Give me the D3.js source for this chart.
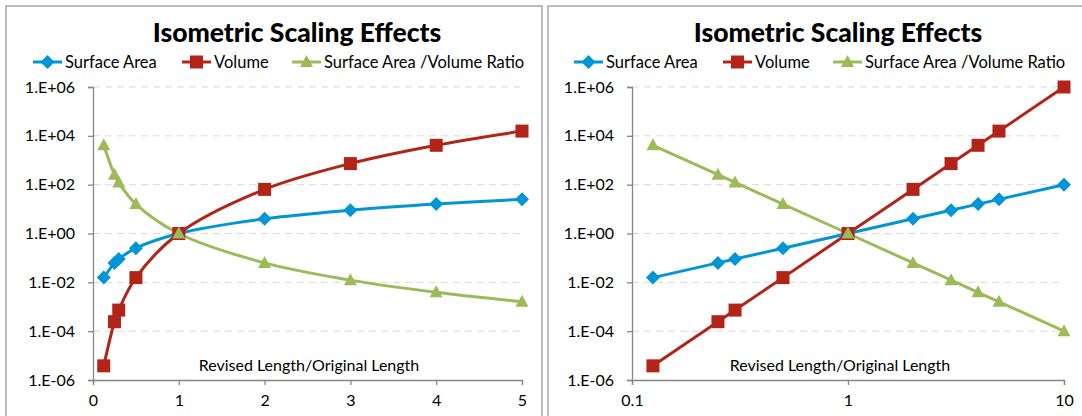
<!DOCTYPE html>
<html lang="en">
<head>
<meta charset="UTF-8">
<title>Isometric Scaling Effects</title>
<script src="https://d3js.org/d3.v7.min.js"></script>
<style>
  body { margin: 0; background: #fff; }
  text { font-family: Lato, "Open Sans", sans-serif; fill: #000; }
</style>
</head>
<body>
<svg id="chart" width="1082" height="416"></svg>
<script>
// values
const lengthRatio = [0.125, 0.25, 0.3, 0.5, 1, 2, 3, 4, 5, 10];
const surfaceArea = [0.0156, 0.0625, 0.09, 0.25, 1, 4, 9, 16, 25, 100];
const volume      = [3.8e-6, 2.44e-4, 7.3e-4, 0.0156, 1, 64, 729, 4096, 15625, 1e6];
const saVolRatio  = [4096, 256, 123, 16, 1, 0.0625, 0.0123, 0.0039, 0.0016, 1e-4];
const yTicks = [1e-6, 1e-4, 1e-2, 1, 1e2, 1e4, 1e6];
const xTicksLinear = [0, 1, 2, 3, 4, 5];
const xTicksLog = [0.1, 1, 10];

const series = [
  {name: "Surface Area", values: surfaceArea, color: "#0096d6", marker: "diamond"},
  {name: "Volume", values: volume, color: "#b22418", marker: "square"},
  {name: "Surface Area /Volume Ratio", values: saVolRatio, color: "#9bbb59", marker: "triangle"}
];

const svg = d3.select("#chart");

function fmtSci(d) {
  const e = Math.round(Math.log10(d));
  return "1.E" + (e < 0 ? "-" : "+") + String(Math.abs(e)).padStart(2, "0");
}

function marker(g, type, x, y, color) {
  if (type === "diamond") {
    g.append("path").attr("d", `M${x},${y-7}L${x+7},${y}L${x},${y+7}L${x-7},${y}Z`).attr("fill", color);
  } else if (type === "square") {
    g.append("rect").attr("x", x-6.5).attr("y", y-6.5).attr("width", 13).attr("height", 13).attr("fill", color);
  } else {
    g.append("path").attr("d", `M${x},${y-7}L${x+6.5},${y+5}L${x-6.5},${y+5}Z`).attr("fill", color);
  }
}

function drawPanel(p) {
  const g = svg.append("g");
  // panel border
  g.append("rect").attr("x", p.boxX).attr("y", 6).attr("width", p.boxW).attr("height", 440)
    .attr("fill", "#fff").attr("stroke", "#a6a6a6").attr("stroke-width", 1.5);

  const x = p.xScale;
  const y = d3.scaleLog().domain([1e-6, 1e6]).range([380, 87]);

  // title
  g.append("text").attr("x", p.titleX).attr("y", 42).attr("text-anchor", "middle")
    .style("font-size", "26.5px").style("font-weight", "900").text("Isometric Scaling Effects");

  // legend
  const lg = g.append("g");
  const legX = [27, 176, 286];
  series.forEach((s, i) => {
    const lx = p.legendX + legX[i];
    lg.append("line").attr("x1", lx).attr("x2", lx + 29).attr("y1", 62).attr("y2", 62)
      .attr("stroke", s.color).attr("stroke-width", 3);
    marker(lg, s.marker, lx + 14.5, 62, s.color);
    lg.append("text").attr("x", lx + 32).attr("y", 68).style("font-size", "16.5px").text(s.name);
  });

  // gridlines
  g.append("g").selectAll("line").data(yTicks.slice(1)).join("line")
    .attr("x1", x.range()[0]).attr("x2", x.range()[1])
    .attr("y1", d => y(d)).attr("y2", d => y(d))
    .attr("stroke", "#d9d9d9").attr("stroke-dasharray", "7,5");

  // axes
  const yAxis = g.append("g").attr("transform", `translate(${x.range()[0]},0)`)
    .call(d3.axisLeft(y).tickValues(yTicks).tickFormat(fmtSci).tickSize(5).tickPadding(13));
  const xAxis = g.append("g").attr("transform", "translate(0,380)")
    .call(d3.axisBottom(x).tickValues(p.xTicks).tickFormat(d => String(d)).tickSize(5).tickPadding(10));
  [yAxis, xAxis].forEach(a => {
    a.select(".domain").attr("stroke", "#868686").attr("stroke-width", 1.3);
    a.selectAll(".tick line").attr("stroke", "#868686").attr("stroke-width", 1.3);
    a.selectAll("text").style("font-size", "16px").style("font-family", "Lato, sans-serif").attr("fill", "#000");
  });

  // axis title
  g.append("text").attr("x", p.axisTitleX).attr("y", 371).attr("text-anchor", "middle")
    .style("font-size", "16px").text("Revised Length/Original Length");

  // series
  const pts = lengthRatio.map((v, i) => i).filter(i => lengthRatio[i] <= p.xMax);
  series.forEach(s => {
    const line = d3.line().x(i => x(lengthRatio[i])).y(i => y(s.values[i])).curve(p.curve);
    g.append("path").attr("d", line(pts)).attr("fill", "none")
      .attr("stroke", s.color).attr("stroke-width", 3);
  });
  series.forEach(s => {
    const mg = g.append("g");
    pts.forEach(i => marker(mg, s.marker, x(lengthRatio[i]), y(s.values[i]), s.color));
  });
}

drawPanel({
  boxX: 6, boxW: 536, titleX: 297, legendX: 6, axisTitleX: 309, xMax: 5,
  xScale: d3.scaleLinear().domain([0, 5]).range([93, 522]),
  xTicks: xTicksLinear, curve: d3.curveCatmullRom
});
drawPanel({
  boxX: 548, boxW: 560, titleX: 838, legendX: 547, axisTitleX: 840, xMax: 10,
  xScale: d3.scaleLog().domain([0.1, 10]).range([632, 1064]),
  xTicks: xTicksLog, curve: d3.curveLinear
});
</script>
</body>
</html>
